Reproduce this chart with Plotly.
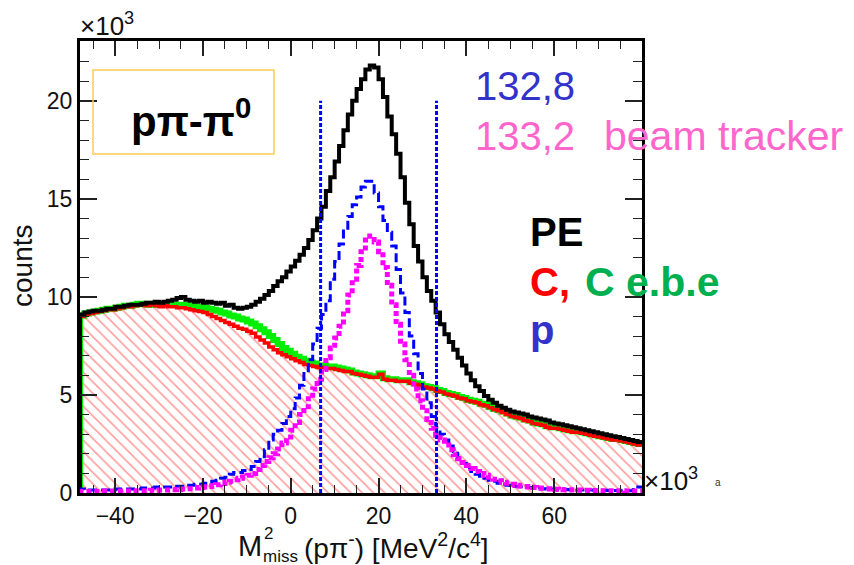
import plotly.graph_objects as go

# Histogram binning (x in units of 10^3 MeV^2/c^4)
BIN_LO = -48.0
BIN_W = 1.0

# PE (black)
pe = [9.1, 9.2, 9.25, 9.3, 9.3, 9.35, 9.4, 9.4, 9.5, 9.5,
      9.55, 9.6, 9.6, 9.6, 9.65, 9.7, 9.7, 9.75, 9.7, 9.75,
      9.8, 9.85, 9.95, 10.0, 9.85, 9.8, 9.75, 9.8, 9.7, 9.75,
      9.7, 9.65, 9.7, 9.55, 9.6, 9.45, 9.4, 9.45, 9.5, 9.6,
      9.75, 9.9, 10.1, 10.3, 10.55, 10.8, 11.0, 11.3, 11.55, 11.85,
      12.15, 12.5, 12.9, 13.4, 14.0, 14.6, 15.4, 16.1, 16.9, 17.7,
      18.5, 19.3, 20.0, 20.6, 21.1, 21.6, 21.8, 21.7, 21.1, 20.2,
      19.2, 18.3, 17.3, 16.1, 14.8, 13.7, 12.6, 11.8, 11.0, 10.3,
      9.8, 9.2, 8.6, 8.1, 7.7, 7.3, 6.9, 6.5, 6.1, 5.75,
      5.45, 5.2, 4.95, 4.75, 4.6, 4.45, 4.35, 4.25, 4.15, 4.1,
      4.05, 4.0, 3.9, 3.85, 3.8, 3.75, 3.7, 3.6, 3.55, 3.5,
      3.45, 3.4, 3.35, 3.3, 3.25, 3.2, 3.15, 3.1, 3.05, 3.0,
      2.95, 2.9, 2.85, 2.8, 2.75, 2.7, 2.65, 2.6]

# C (red, hatched)
c_bg = [9.0, 9.1, 9.15, 9.2, 9.25, 9.3, 9.35, 9.35, 9.4, 9.45,
        9.5, 9.5, 9.55, 9.6, 9.6, 9.55, 9.6, 9.55, 9.5, 9.55,
        9.5, 9.5, 9.45, 9.45, 9.4, 9.35, 9.3, 9.25, 9.2, 9.1,
        9.0, 8.9, 8.8, 8.7, 8.6, 8.5, 8.4, 8.35, 8.25, 8.15,
        7.95, 7.8, 7.65, 7.45, 7.3, 7.15, 7.05, 6.95, 6.85, 6.75,
        6.65, 6.55, 6.5, 6.45, 6.4, 6.4, 6.35, 6.35, 6.3, 6.25,
        6.2, 6.2, 6.1, 6.05, 6.0, 5.95, 5.9, 5.9, 6.05, 5.8,
        5.75, 5.75, 5.7, 5.7, 5.7, 5.6, 5.55, 5.5, 5.4, 5.35,
        5.3, 5.2, 5.15, 5.05, 5.0, 4.95, 4.85, 4.8, 4.7, 4.65,
        4.6, 4.5, 4.45, 4.35, 4.25, 4.2, 4.1, 4.0, 3.9, 3.85,
        3.8, 3.7, 3.65, 3.55, 3.5, 3.45, 3.35, 3.3, 3.3, 3.25,
        3.2, 3.15, 3.1, 3.1, 3.05, 3.0, 2.95, 2.9, 2.85, 2.8,
        2.75, 2.7, 2.7, 2.65, 2.6, 2.55, 2.5, 2.45]

# C e.b.e (green)
c_ebe = [9.05, 9.15, 9.2, 9.25, 9.3, 9.35, 9.4, 9.4, 9.45, 9.5,
         9.55, 9.55, 9.6, 9.65, 9.65, 9.6, 9.65, 9.6, 9.6, 9.6,
         9.6, 9.6, 9.6, 9.6, 9.55, 9.55, 9.5, 9.5, 9.45, 9.4,
         9.35, 9.3, 9.2, 9.15, 9.05, 9.0, 8.9, 8.85, 8.75, 8.65,
         8.5, 8.35, 8.2, 8.0, 7.8, 7.6, 7.4, 7.25, 7.1, 6.95,
         6.85, 6.75, 6.65, 6.6, 6.5, 6.5, 6.45, 6.45, 6.4, 6.35,
         6.3, 6.25, 6.15, 6.1, 6.05, 6.0, 5.95, 5.95, 6.1, 5.85,
         5.8, 5.8, 5.75, 5.75, 5.75, 5.65, 5.6, 5.55, 5.45, 5.4,
         5.35, 5.25, 5.2, 5.1, 5.05, 5.0, 4.9, 4.85, 4.75, 4.7,
         4.65, 4.55, 4.5, 4.4, 4.3, 4.25, 4.15, 4.05, 3.95, 3.9,
         3.85, 3.75, 3.7, 3.6, 3.55, 3.5, 3.4, 3.35, 3.35, 3.3,
         3.25, 3.2, 3.15, 3.15, 3.1, 3.05, 3.0, 2.95, 2.9, 2.85,
         2.8, 2.75, 2.75, 2.7, 2.65, 2.6, 2.55, 2.5]

# p, 132.8 (blue dashed)
p_1328 = [0.2, 0.15, 0.15, 0.15, 0.15, 0.15, 0.15, 0.15, 0.2, 0.2,
          0.2, 0.2, 0.2, 0.2, 0.25, 0.25, 0.25, 0.3, 0.3, 0.3,
          0.3, 0.35, 0.35, 0.35, 0.4, 0.4, 0.45, 0.45, 0.5, 0.55,
          0.6, 0.65, 0.75, 0.8, 0.95, 1.05, 1.05, 1.15, 1.2, 1.35,
          1.6, 1.85, 2.2, 2.7, 3.0, 3.2, 3.55, 3.9, 4.3, 4.85,
          5.5, 6.1, 6.8, 7.6, 8.4, 9.1, 9.8, 10.9, 11.8, 12.7,
          13.5, 14.1, 14.7, 15.1, 15.6, 15.9, 15.9, 15.3, 14.6, 13.9,
          13.3, 12.6, 11.4, 10.2, 9.2, 8.0, 7.1, 6.1, 5.3, 4.6,
          3.9, 3.3, 3.0, 2.7, 2.4, 2.1, 1.8, 1.5, 1.3, 1.1,
          0.95, 0.85, 0.75, 0.65, 0.6, 0.5, 0.45, 0.4, 0.38, 0.35,
          0.32, 0.3, 0.28, 0.25, 0.25, 0.22, 0.2, 0.2, 0.2, 0.18,
          0.18, 0.17, 0.15, 0.15, 0.15, 0.15, 0.15, 0.14, 0.14, 0.14,
          0.13, 0.13, 0.13, 0.12, 0.12, 0.12, 0.3, 0.3]

# p, 133.2 beam tracker (magenta dotted)
p_1332 = [0.08, 0.08, 0.08, 0.08, 0.08, 0.1, 0.1, 0.1, 0.1, 0.1,
          0.1, 0.1, 0.12, 0.12, 0.12, 0.12, 0.14, 0.14, 0.15, 0.15,
          0.15, 0.17, 0.18, 0.2, 0.22, 0.22, 0.25, 0.28, 0.3, 0.33,
          0.37, 0.42, 0.48, 0.55, 0.6, 0.68, 0.75, 0.82, 0.9, 1.0,
          1.2, 1.4, 1.6, 1.8, 2.0, 2.25, 2.55, 2.85, 3.2, 3.6,
          4.0, 4.4, 4.8, 5.3, 5.8, 6.3, 6.9, 7.4, 7.9, 8.5,
          9.3, 10.1, 10.9, 11.6, 12.3, 12.9, 13.1, 12.8, 12.3, 11.5,
          10.6, 9.6, 8.6, 7.6, 6.8, 6.0, 5.3, 4.7, 4.2, 3.75,
          3.3, 2.95, 2.7, 2.45, 2.2, 1.95, 1.75, 1.55, 1.4, 1.25,
          1.1, 1.0, 0.9, 0.8, 0.7, 0.62, 0.55, 0.5, 0.45, 0.4,
          0.36, 0.33, 0.3, 0.28, 0.26, 0.24, 0.22, 0.2, 0.19, 0.18,
          0.17, 0.16, 0.15, 0.15, 0.14, 0.14, 0.13, 0.13, 0.12, 0.12,
          0.12, 0.11, 0.11, 0.11, 0.1, 0.1, 0.1, 0.1]

# Selection window (vertical dotted lines)
cut_lo, cut_hi, cut_top = 6.8, 33.2, 20.0

X_RANGE = [-48, 80]
Y_RANGE = [0, 23.05]
X_TICKS = [-40, -20, 0, 20, 40, 60]

edges = [BIN_LO + i * BIN_W for i in range(len(pe) + 1)]


def step_xy(vals):
    xs = [edges[0]] + edges
    ys = [0.0] + list(vals) + [vals[-1]]
    return xs, ys


fig = go.Figure()

x, y = step_xy(c_bg)
fig.add_trace(go.Scatter(
    x=x, y=y, mode="lines", line_shape="hv", line=dict(width=0, color="red"),
    fill="tozeroy", fillcolor="white",
    fillpattern=dict(shape="\\", size=8, solidity=0.2, fgcolor="#ff3b3b",
                     bgcolor="white"),
    hoverinfo="skip", showlegend=False))

for vals, color, width, dash in [
        (c_ebe, "#00ee00", 6, "solid"),
        (c_bg, "#ff0000", 3.5, "solid"),
        (pe, "#000000", 4, "solid"),
        (p_1328, "#0000ff", 3, "9px,4px"),
        (p_1332, "#ff00ff", 5, "5px,3px")]:
    x, y = step_xy(vals)
    fig.add_trace(go.Scatter(x=x, y=y, mode="lines", line_shape="hv",
                             line=dict(color=color, width=width, dash=dash),
                             hoverinfo="skip", showlegend=False))

for xc in (cut_lo, cut_hi):
    fig.add_trace(go.Scatter(x=[xc, xc], y=[0, cut_top], mode="lines",
                             line=dict(color="#0000ff", width=3, dash="4px,2px"),
                             hoverinfo="skip", showlegend=False))

W, H = 854, 565
L, R, T, B = 80, 642, 41, 493


def px(xp):
    return (xp - L) / (R - L)


def py(yp):
    return (B - yp) / (B - T)


FONT = "Liberation Sans"

axis_common = dict(
    showline=True, linewidth=3, linecolor="black", mirror="ticks",
    ticks="inside", tickcolor="#222", tickwidth=1.5,
    showgrid=False, zeroline=False,
    tickfont=dict(family=FONT, size=23, color="#111"),
)

x_minor = [v for v in range(-45, 80, 5) if v not in X_TICKS]

fig.update_layout(
    width=W, height=H,
    margin=dict(l=L, r=W - R, t=T, b=H - B),
    paper_bgcolor="white", plot_bgcolor="white",
    xaxis=dict(range=X_RANGE, tickmode="array", tickvals=X_TICKS, ticklen=15,
               minor=dict(tickmode="array", tickvals=x_minor, ticklen=8,
                          ticks="inside", tickcolor="#222", tickwidth=1.2),
               **axis_common),
    yaxis=dict(range=Y_RANGE, dtick=5, tick0=0, ticklen=17,
               minor=dict(dtick=1, ticklen=9, ticks="inside",
                          tickcolor="#222", tickwidth=1.2),
               **axis_common),
)

ann = []


def text(xp, yp, s, size, color="black", xanchor="left", yanchor="middle",
         bold=False, angle=0, family=FONT):
    ann.append(dict(x=px(xp), y=py(yp), xref="paper", yref="paper",
                    text=f"<b>{s}</b>" if bold else s, showarrow=False,
                    xanchor=xanchor, yanchor=yanchor, textangle=angle,
                    font=dict(family=family, size=size, color=color)))


# exponent labels
text(78, 25, "×10<sup>3</sup>", 26, "#111")
text(642, 479, "×10<sup>3</sup>", 26, "#111")
text(713, 482, "a", 10, "#333")

# axis titles
text(22, 266, "counts", 28, "#111", xanchor="center", angle=-90)
text(236, 546, "M", 29, "#111")
text(262, 533, "2", 17, "#111")
text(261, 556, "miss", 17, "#111")
text(302, 546, "(pπ<sup>-</sup>) [MeV<sup>2</sup>/c<sup>4</sup>]", 28, "#111")

# channel label box
fig.add_shape(type="rect", xref="paper", yref="paper",
              x0=px(93), x1=px(274), y0=py(154), y1=py(70),
              line=dict(color="#ffcc55", width=1.5))
text(191, 118, "pπ-π<sup>0</sup>", 42, "black", xanchor="center", bold=True)

# legend-style labels
text(473, 86, "132,8", 40, "#3333cc")
text(473, 136, "133,2", 40, "#ff66cc")
text(602, 136, "beam tracker", 41, "#ff66cc")
text(528, 232, "PE", 40, "black", bold=True)
text(528, 282, "C,", 40, "#ff0000", bold=True)
text(583, 282, "C e.b.e", 41, "#00b050", bold=True)
text(528, 330, "p", 40, "#3333cc", bold=True)

fig.update_layout(annotations=ann)

fig.write_html("out.html")
